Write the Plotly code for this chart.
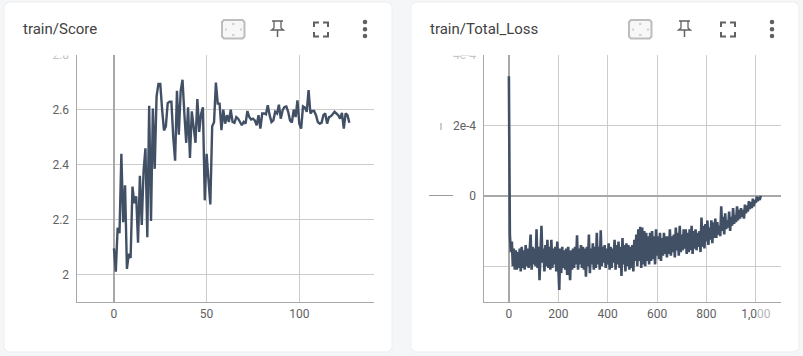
import plotly.graph_objects as go

W, H = 803, 356

score_steps = list(range(128))
score_values = [
    2.095, 2.01, 2.17, 2.15, 2.44, 2.19, 2.325, 2.02, 2.075, 2.06,
    2.32, 2.26, 2.285, 2.115, 2.36, 2.18, 2.38, 2.46, 2.135, 2.615,
    2.195, 2.605, 2.385, 2.65, 2.695, 2.695, 2.60, 2.525, 2.54, 2.625,
    2.63, 2.63, 2.50, 2.415, 2.67, 2.51, 2.67, 2.71, 2.585, 2.48,
    2.61, 2.425, 2.595, 2.525, 2.48, 2.64, 2.52, 2.585, 2.61, 2.27,
    2.44, 2.345, 2.255, 2.54, 2.555, 2.70, 2.623, 2.623, 2.526, 2.601,
    2.550, 2.581, 2.556, 2.601, 2.556, 2.553, 2.574, 2.568, 2.556, 2.544,
    2.556, 2.550, 2.596, 2.574, 2.565, 2.568, 2.562, 2.544, 2.581, 2.532,
    2.587, 2.587, 2.584, 2.617, 2.581, 2.556, 2.562, 2.593, 2.587, 2.619,
    2.568, 2.599, 2.611, 2.613, 2.593, 2.562, 2.554, 2.601, 2.574, 2.635,
    2.550, 2.532, 2.613, 2.609, 2.593, 2.672, 2.587, 2.596, 2.596, 2.581,
    2.556, 2.550, 2.553, 2.581, 2.587, 2.550, 2.574, 2.577, 2.584, 2.593,
    2.587, 2.581, 2.568, 2.589, 2.532, 2.587, 2.581, 2.553,
]

loss_e4 = [
    3.40, -1.10, -1.60, -1.30, -2.00, -1.50, -2.10, -1.55, -2.10, -1.60, -2.05, -1.50, -2.15, -1.45, -2.05, -1.55, -2.10, -1.40, -2.00, -1.50,
    -2.05, -1.50, -1.10, -2.10, -1.45, -1.95, -1.50, -2.00, -0.95, -2.05, -1.45, -2.40, -1.45, -0.85, -1.90, -1.50, -2.15, -1.40, -2.00, -1.25,
    -2.05, -1.45, -2.10, -1.25, -2.05, -1.50, -1.95, -1.45, -2.15, -1.30, -2.00, -2.68, -1.50, -2.20, -1.45, -2.05, -1.55, -2.10, -1.50, -2.25,
    -1.45, -2.00, -2.40, -1.55, -2.10, -1.50, -2.05, -1.45, -1.95, -1.12, -2.10, -1.50, -1.95, -1.40, -2.05, -1.45, -2.10, -1.50, -2.30, -1.45,
    -2.00, -1.10, -2.20, -1.50, -1.95, -1.35, -2.10, -1.45, -2.05, -1.05, -1.95, -1.45, -2.10, -0.98, -2.00, -1.45, -1.90, -1.40, -2.05, -1.50,
    -1.95, -1.35, -2.10, -1.45, -2.05, -1.50, -1.90, -1.25, -2.10, -1.40, -1.95, -1.30, -2.05, -1.45, -2.28, -1.20, -1.95, -1.40, -2.15, -1.35,
    -2.00, -1.40, -2.10, -1.45, -2.05, -1.40, -2.15, -1.25, -1.85, -1.10, -2.00, -0.95, -1.85, -0.88, -2.05, -0.90, -1.95, -1.00, -2.00, -1.05,
    -1.85, -1.15, -1.95, -1.05, -1.85, -1.00, -1.80, -1.15, -1.95, -0.95, -1.70, -1.15, -1.80, -1.05, -1.85, -1.20, -1.70, -1.05, -1.65, -1.15,
    -1.75, -1.15, -1.65, -0.95, -1.70, -1.15, -1.60, -1.10, -1.75, -0.90, -1.55, -1.05, -1.70, -0.85, -1.60, -1.10, -1.55, -0.95, -1.50, -0.95,
    -1.65, -1.05, -1.60, -0.95, -1.55, -0.85, -1.65, -1.00, -1.50, -0.95,
    -1.55, -1.05, -1.45, -1.00, -1.60, -0.62, -1.45, -0.85, -1.50, -0.80, -1.30, -0.70, -1.40, -0.90, -1.25, -0.70, -1.35, -0.75, -1.20, -0.65,
    -1.20, -0.75, -1.10, -0.85, -1.15, -0.30, -1.00, -0.60, -1.10, -0.50, -0.95, -0.70, -0.90, -0.45, -1.00, -0.60, -0.85, -0.35, -0.80, -0.55, -0.75, -0.30,
    -0.70, -0.40, -0.65, -0.35, -0.60, -0.40, -0.65, -0.25, -0.50, -0.28, -0.45, -0.15, -0.38, -0.18, -0.35, -0.08, -0.30, -0.12, -0.20, -0.02, -0.15, -0.04, -0.12, 0.00,
]
loss_steps = list(range(0, 4 * len(loss_e4), 4))
loss_values = [v * 1e-4 for v in loss_e4]

FADE = "<span style='color:#c4c4c4'>%s</span>"
score_xticks = [0, 50, 100]
score_xlabels = ["0", "50", "100"]
score_yticks = [2, 2.2, 2.4, 2.6, 2.8]
score_ylabels = ["2", "2.2", "2.4", "2.6", FADE % "2.8"]
loss_xticks = [0, 200, 400, 600, 800, 1000]
loss_xlabels = ["0", "200", "400", "600", "800", "1,0<span style='color:#b5b5b5'>00</span>"]
loss_yticks = [-2e-4, 0, 2e-4, 4e-4]
loss_ylabels = ["", "0", "2e-4", FADE % "4e-4"]
titles = ["train/Score", "train/Total_Loss"]

BG = "#f5f6f8"
LINE = "#425066"
GRID = "#cccccc"
AXIS = "#a8a8a8"
TICK = "#616161"
OFFSET = 407


def px(x):
    return x / W


def py(y):
    return 1 - y / H


def rect(x0, y0, x1, y1, **kw):
    return dict(type="rect", xref="paper", yref="paper", x0=px(x0), x1=px(x1), y0=py(y1), y1=py(y0), **kw)


def seg(x0, y0, x1, y1, color="#616161", width=2):
    return dict(type="line", xref="paper", yref="paper", x0=px(x0), x1=px(x1), y0=py(y0), y1=py(y1),
                line=dict(color=color, width=width))


def path(points, close=False, **kw):
    d = "M " + " L ".join(f"{px(a):.5f},{py(b):.5f}" for a, b in points) + (" Z" if close else "")
    return dict(type="path", xref="paper", yref="paper", path=d, **kw)


def rounded(x0, y0, x1, y1, r, **kw):
    c = [(x0 + r, y0), (x1 - r, y0), (x1, y0 + r), (x1, y1 - r), (x1 - r, y1), (x0 + r, y1), (x0, y1 - r), (x0, y0 + r)]
    return path(c, close=True, **kw)


shapes = []
for o in (0, OFFSET):
    shapes.append(rounded(4 + o, 2, 392 + o, 352, 4, fillcolor="white", line=dict(color="#eceef0", width=1), layer="below"))
    # fit-to-data icon
    shapes.append(rounded(222 + o, 20, 244.5 + o, 38.5, 2, fillcolor="#f7f7f7", line=dict(color="#bdbdbd", width=2)))
    for a, b, c, d in [(232, 24, 234.5, 24), (232, 35, 234.5, 35), (226, 28.5, 226, 30.5), (241, 28.5, 241, 30.5)]:
        shapes.append(seg(a + o, b, c + o, d, "#c4c4c4", 1.5))
    # pin icon
    shapes.append(seg(272 + o, 21, 283 + o, 21, "#616161", 1.5))
    shapes.append(path([(274 + o, 21), (274 + o, 28), (271.5 + o, 30), (283.5 + o, 30), (281 + o, 28), (281 + o, 21)],
                       line=dict(color="#616161", width=1.3)))
    shapes.append(seg(277.5 + o, 30, 277.5 + o, 37, "#616161", 1.5))
    # fullscreen icon
    for pts in [[(314, 27), (314, 22.5), (319, 22.5)], [(323, 22.5), (328, 22.5), (328, 27)],
                [(314, 32), (314, 36.5), (319, 36.5)], [(323, 36.5), (328, 36.5), (328, 32)]]:
        shapes.append(path([(a + o, b) for a, b in pts], line=dict(color="#616161", width=2)))
    # overflow icon
    for cy in (22, 29.3, 36):
        shapes.append(dict(type="circle", xref="paper", yref="paper", x0=px(362.7 + o), x1=px(367.3 + o),
                           y0=py(cy + 2.3), y1=py(cy - 2.3), fillcolor="#616161", line=dict(width=0)))
    # clipped top of the y tick labels
    shapes.append(rect(20 + o, 44, 75 + o, 55.5, fillcolor="white", line=dict(width=0), layer="above"))

# stray legend remnants beside the loss axis
shapes.append(seg(429, 195.5, 453, 195.5, "#9a9a9a", 1))
shapes.append(seg(441, 123, 441, 130, "#9a9a9a", 1))

annotations = [
    dict(text=t, xref="paper", yref="paper", x=px(20.5 + i * OFFSET), y=py(29), xanchor="left", yanchor="middle",
         showarrow=False, font=dict(family="Roboto", size=15, color="#424242"))
    for i, t in enumerate(titles)
]


def axis_common(ticklen):
    return dict(showgrid=True, gridcolor=GRID, gridwidth=1, showline=True, linecolor=AXIS, linewidth=1,
                zeroline=True, zerolinecolor=AXIS, zerolinewidth=2, ticks="outside", ticklen=ticklen,
                tickcolor="rgba(0,0,0,0)", tickfont=dict(family="Roboto", size=12, color=TICK), tickmode="array",
                automargin=False)


fig = go.Figure()
fig.add_trace(go.Scatter(x=score_steps, y=score_values, mode="lines", xaxis="x", yaxis="y",
                         line=dict(color=LINE, width=2.4), hoverinfo="skip", showlegend=False))
fig.add_trace(go.Scatter(x=loss_steps, y=loss_values, mode="lines", xaxis="x2", yaxis="y2",
                         line=dict(color=LINE, width=2.6), hoverinfo="skip", showlegend=False))

fig.update_layout(
    width=W, height=H, margin=dict(l=0, r=0, t=0, b=0), autosize=False,
    paper_bgcolor=BG, plot_bgcolor="rgba(0,0,0,0)", showlegend=False,
    shapes=shapes, annotations=annotations,
    xaxis=dict(domain=[px(76.5), px(374)], range=[-20.2, 140.3], anchor="y",
               tickvals=score_xticks, ticktext=score_xlabels, **axis_common(1)),
    yaxis=dict(domain=[py(302), py(55)], range=[1.899, 2.8005], anchor="x",
               tickvals=score_yticks, ticktext=score_ylabels, **axis_common(4)),
    xaxis2=dict(domain=[px(483.5), px(781)], range=[-102.8, 1102], anchor="y2",
                tickvals=loss_xticks, ticktext=loss_xlabels, **axis_common(1)),
    yaxis2=dict(domain=[py(302), py(55)], range=[-3.02e-4, 4.005e-4], anchor="x2",
                tickvals=loss_yticks, ticktext=loss_ylabels, **axis_common(4)),
)

fig.write_html("out.html", config=dict(displayModeBar=False),
               post_script="document.body.style.margin='0';document.body.style.background='" + BG + "';")
